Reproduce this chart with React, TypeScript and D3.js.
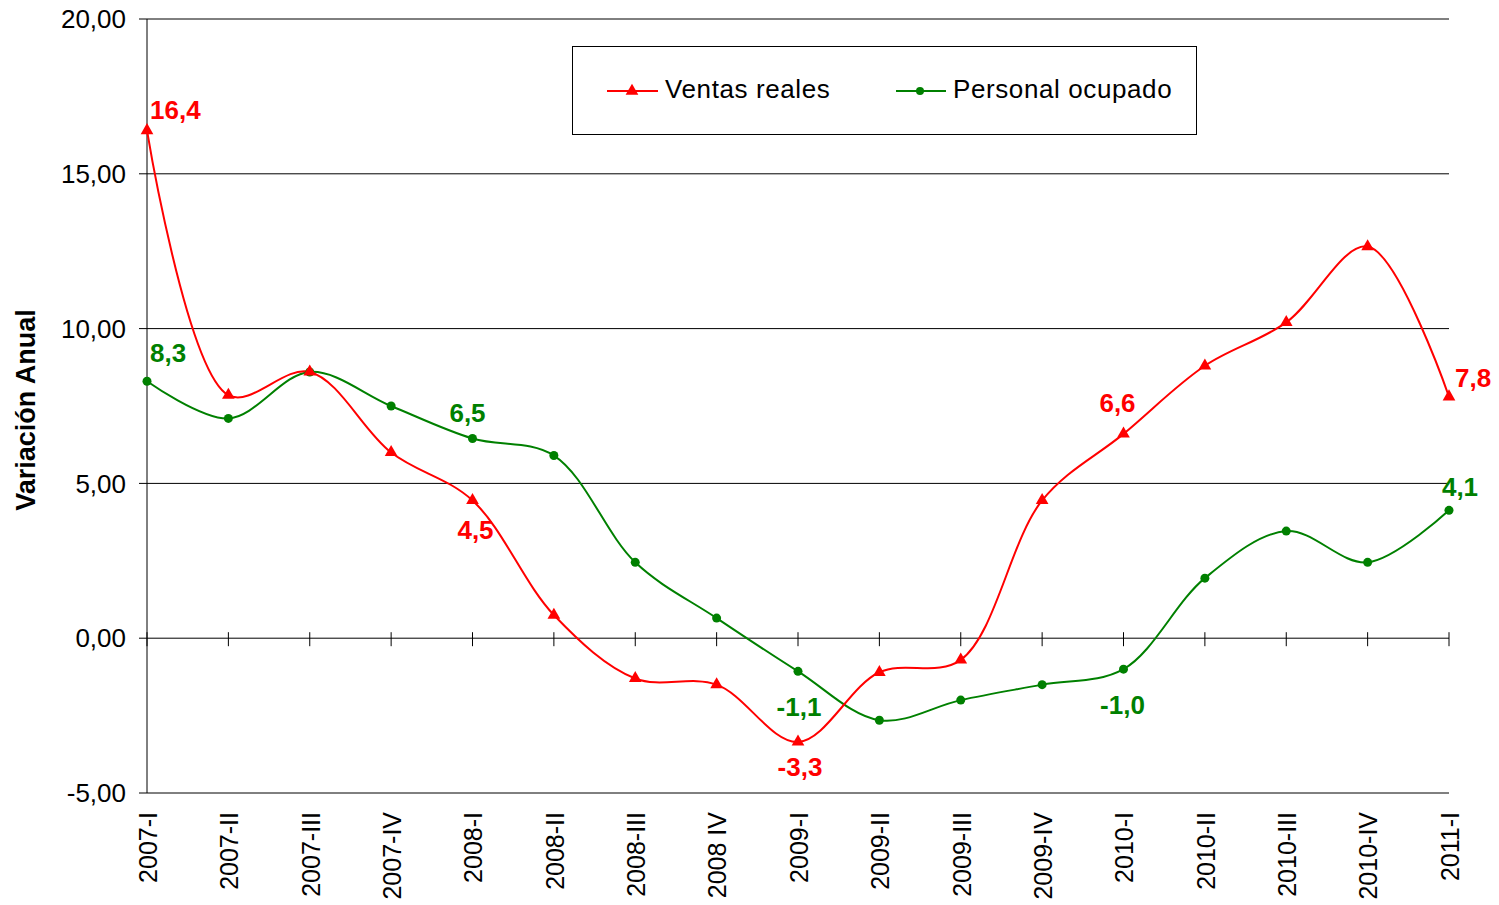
import React from "react";
import * as d3 from "d3";

const categories = ["2007-I","2007-II","2007-III","2007-IV","2008-I","2008-II","2008-III","2008 IV","2009-I","2009-II","2009-III","2009-IV","2010-I","2010-II","2010-III","2010-IV","2011-I"];
const ventasReales = [16.4, 7.85, 8.6, 6.0, 4.45, 0.75, -1.3, -1.5, -3.35, -1.1, -0.7, 4.45, 6.6, 8.8, 10.2, 12.65, 7.8];
const personalOcupado = [8.3, 7.1, 8.6, 7.5, 6.45, 5.9, 2.45, 0.65, -1.07, -2.65, -2.0, -1.5, -1.0, 1.94, 3.46, 2.45, 4.13];
const yTicks = [-5, 0, 5, 10, 15, 20];
const ventasLabels = [
  { i: 0, text: "16,4", dx: 3, dy: -21, anchor: "start" },
  { i: 4, text: "4,5", dx: 3, dy: 29, anchor: "middle" },
  { i: 8, text: "-3,3", dx: 2, dy: 25, anchor: "middle" },
  { i: 12, text: "6,6", dx: -6, dy: -31, anchor: "middle" },
  { i: 16, text: "7,8", dx: 6, dy: -19, anchor: "start" },
];
const personalLabels = [
  { i: 0, text: "8,3", dx: 3, dy: -28, anchor: "start" },
  { i: 4, text: "6,5", dx: -5, dy: -26, anchor: "middle" },
  { i: 8, text: "-1,1", dx: 1, dy: 36, anchor: "middle" },
  { i: 12, text: "-1,0", dx: -1, dy: 36, anchor: "middle" },
  { i: 16, text: "4,1", dx: 11, dy: -23, anchor: "middle" },
];

const RED = "#ff0000";
const GREEN = "#008000";
const FONT = "'Liberation Sans', Arial, sans-serif";

export default function App() {
  const width = 1499, height = 905;
  const left = 147, right = 1449, top = 19, bottom = 793;
  const x = d3.scalePoint<string>().domain(categories).range([left, right]);
  const y = d3.scaleLinear().domain([-5, 20]).range([bottom, top]);
  const line = d3.line<number>()
    .x((_, i) => x(categories[i])!)
    .y((d) => y(d))
    .curve(d3.curveCatmullRom.alpha(0.5));
  const tri = d3.symbol().type(d3.symbolTriangle).size(70)()!;
  const fmt = (v: number) => v.toFixed(2).replace(".", ",");

  return (
    <div style={{ position: "absolute", left: 0, top: 0 }}>
      <svg width={width} height={height} style={{ display: "block", background: "#fff" }}>
        {yTicks.filter((t) => t !== 0).map((t) => (
          <line key={"g" + t} x1={left} x2={right} y1={y(t)} y2={y(t)} stroke="#000" strokeWidth={1} />
        ))}
        <line x1={left} x2={left} y1={top} y2={bottom} stroke="#000" strokeWidth={1} />
        {yTicks.map((t) => (
          <g key={"yt" + t}>
            <line x1={left - 8} x2={left} y1={y(t)} y2={y(t)} stroke="#000" />
            <text x={126} y={y(t)} dy="0.35em" textAnchor="end" fontFamily={FONT} fontSize={26} fill="#000">{fmt(t)}</text>
          </g>
        ))}
        <line x1={left} x2={right} y1={y(0)} y2={y(0)} stroke="#000" strokeWidth={1} />
        {categories.map((c) => (
          <g key={"xt" + c}>
            <line x1={x(c)!} x2={x(c)!} y1={y(0) - 6} y2={y(0) + 8} stroke="#000" />
            <text transform={`translate(${x(c)! + 1},812) rotate(-90)`} dy="0.35em" textAnchor="end" fontFamily={FONT} fontSize={25} fill="#000">{c}</text>
          </g>
        ))}
        <text transform="translate(26,410) rotate(-90)" dy="0.35em" textAnchor="middle" fontFamily={FONT} fontWeight="bold" fontSize={27} fill="#000">Variación Anual</text>

        <path d={line(personalOcupado)!} fill="none" stroke={GREEN} strokeWidth={2} />
        <path d={line(ventasReales)!} fill="none" stroke={RED} strokeWidth={2} />
        {personalOcupado.map((v, i) => (
          <circle key={"pc" + i} cx={x(categories[i])!} cy={y(v)} r={4.5} fill={GREEN} />
        ))}
        {ventasReales.map((v, i) => (
          <path key={"vt" + i} d={tri} transform={`translate(${x(categories[i])!},${y(v)})`} fill={RED} />
        ))}

        {ventasLabels.map((l) => (
          <text key={"vl" + l.i} x={x(categories[l.i])! + l.dx} y={y(ventasReales[l.i]) + l.dy} dy="0.35em" textAnchor={l.anchor as any} fontFamily={FONT} fontWeight="bold" fontSize={26} fill={RED}>{l.text}</text>
        ))}
        {personalLabels.map((l) => (
          <text key={"pl" + l.i} x={x(categories[l.i])! + l.dx} y={y(personalOcupado[l.i]) + l.dy} dy="0.35em" textAnchor={l.anchor as any} fontFamily={FONT} fontWeight="bold" fontSize={26} fill={GREEN}>{l.text}</text>
        ))}

        <rect x={572.5} y={46.5} width={624} height={88} fill="#fff" stroke="#000" strokeWidth={1} />
        <line x1={607} x2={658} y1={91} y2={91} stroke={RED} strokeWidth={2} />
        <path d={tri} transform="translate(632,91)" fill={RED} />
        <text x={665} y={89} dy="0.35em" fontFamily={FONT} fontSize={26} fill="#000" letterSpacing={0.6}>Ventas reales</text>
        <line x1={896} x2={946} y1={91} y2={91} stroke={GREEN} strokeWidth={2} />
        <circle cx={920} cy={91} r={4} fill={GREEN} />
        <text x={953} y={89} dy="0.35em" fontFamily={FONT} fontSize={26} fill="#000" letterSpacing={0.6}>Personal ocupado</text>
      </svg>
    </div>
  );
}
